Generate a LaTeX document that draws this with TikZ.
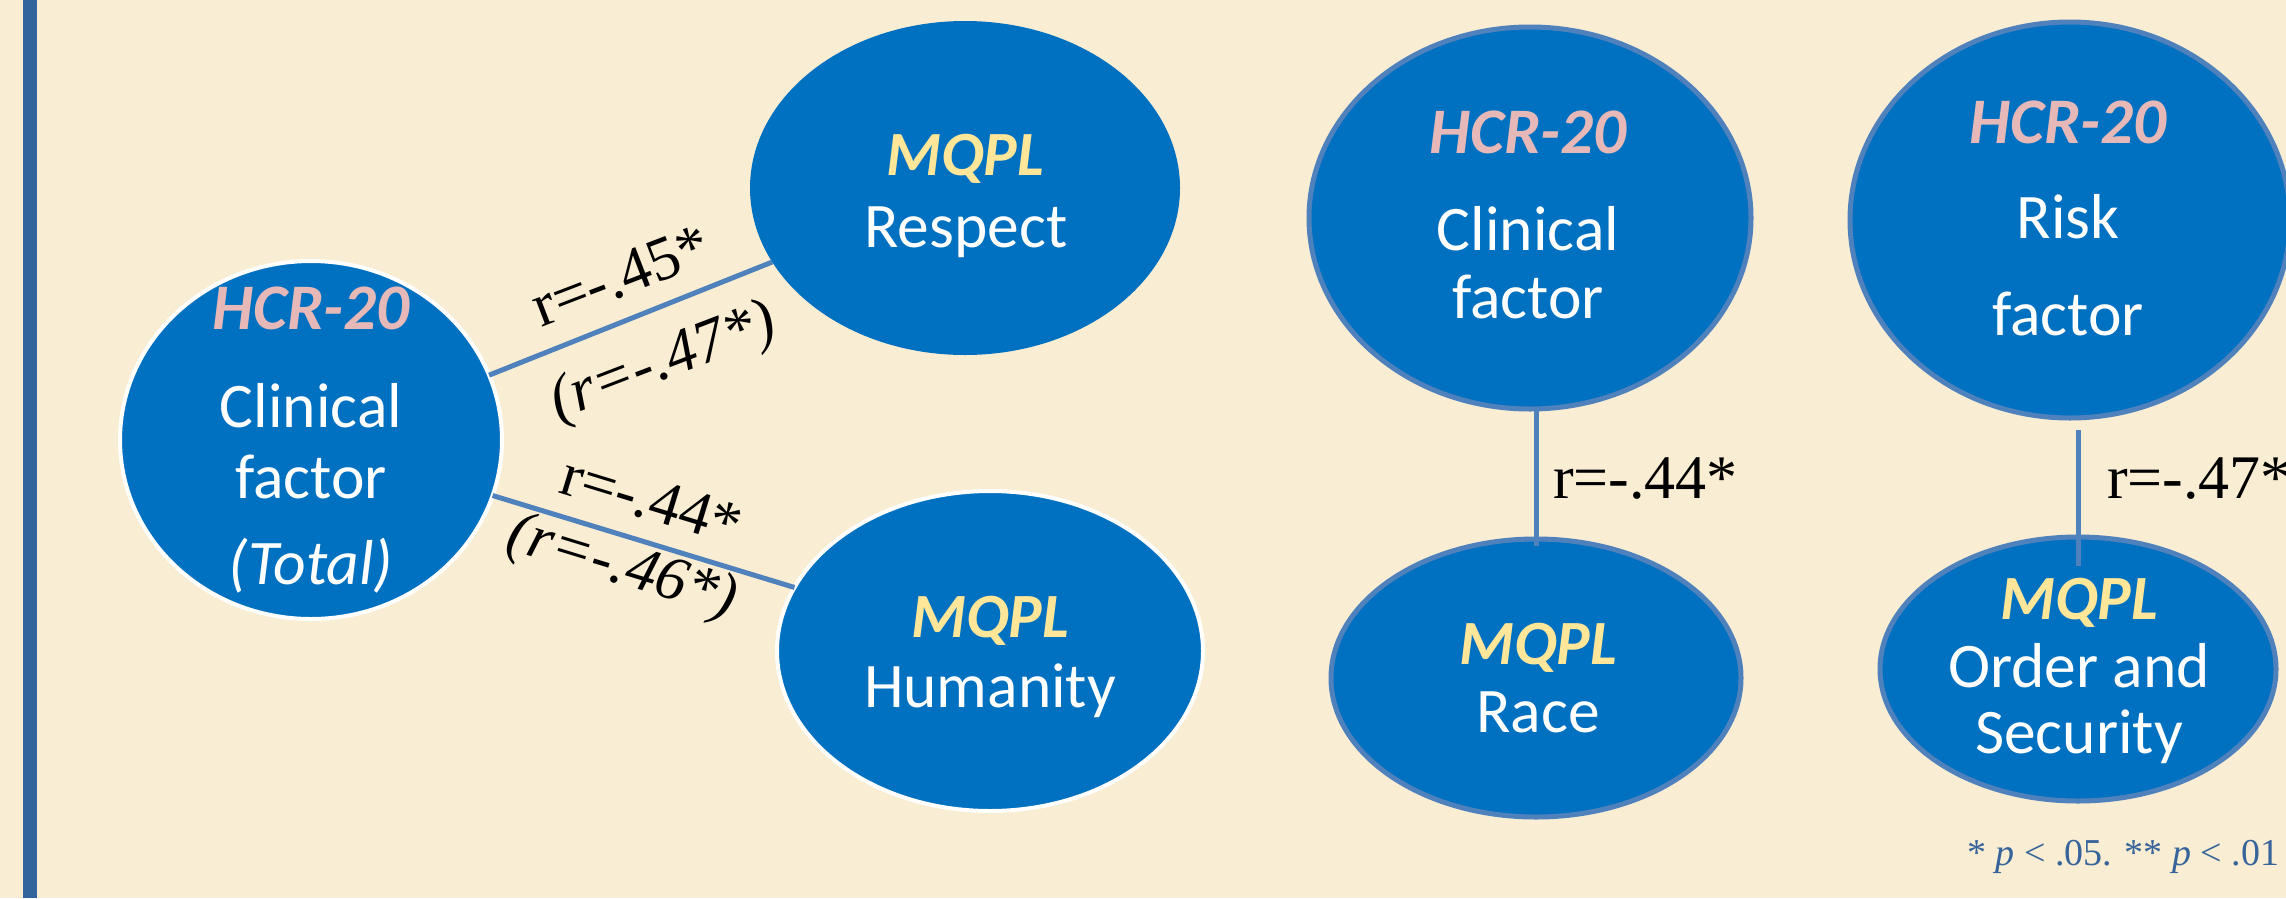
\documentclass[tikz,border=0pt]{standalone}
\usepackage{fontspec}
\usetikzlibrary{shapes.geometric}
\newfontfamily\calib{Carlito}
\newfontfamily\tnr{Liberation Serif}
\definecolor{bg}{HTML}{F9EDD3}
\definecolor{nodeblue}{HTML}{0070C0}
\definecolor{edgeblue}{HTML}{4F81BD}
\definecolor{pinkt}{HTML}{E6B9B8}
\definecolor{yellowt}{HTML}{FFE699}
\definecolor{barblue}{HTML}{31659B}
\definecolor{notecol}{HTML}{36649B}
\begin{document}
\begin{tikzpicture}[x=1pt,y=1pt,
  ell/.style={ellipse, fill=nodeblue, inner sep=0pt, outer sep=0pt},
  wborder/.style={draw=white, line width=4pt},
  bborder/.style={draw=edgeblue, line width=5pt},
  conn/.style={draw=edgeblue, line width=5pt},
  hcr/.style={font=\calib\bfseries\itshape\fontsize{65}{65}\selectfont, text=pinkt, anchor=base, inner sep=0pt},
  mqpl/.style={font=\calib\bfseries\itshape\fontsize{63}{63}\selectfont, text=yellowt, anchor=base, inner sep=0pt},
  body/.style={font=\calib\fontsize{63.5}{63.5}\selectfont, text=white, anchor=base, inner sep=0pt},
  rlab/.style={font=\tnr\fontsize{62}{62}\selectfont, text=black, inner sep=0pt},
]
\useasboundingbox (0,0) rectangle (2286,-898);
\clip (0,0) rectangle (2286,-898);
\fill[bg] (0,0) rectangle (2286,-898);
\fill[barblue] (23,0) rectangle (37,-898);

% ellipses
\node[ell, wborder, minimum width=382pt, minimum height=358pt] (A) at (311,-440) {};
\node[ell, minimum width=430pt, minimum height=334pt] (B) at (965,-188) {};
\node[ell, wborder, minimum width=426pt, minimum height=320pt] (C) at (990,-651) {};
\node[ell, bborder, minimum width=442pt, minimum height=382pt] (D) at (1530,-218) {};
\node[ell, bborder, minimum width=410pt, minimum height=278pt] (E) at (1536,-678) {};
\node[ell, bborder, minimum width=440pt, minimum height=396pt] (F) at (2070,-220) {};
\node[ell, bborder, minimum width=396pt, minimum height=264pt] (G) at (2078,-669) {};

% connectors
\draw[conn] (A.20.8) -- (B.201);
\draw[conn] (A.-17.2) -- (C.162.5);
\coordinate (e1) at ([yshift=-7pt]E.north);
\draw[conn] (D.south -| e1) -- (e1);
\coordinate (f1) at ([yshift=-12pt]F.south);
\coordinate (g1) at ([yshift=-29pt]G.north);
\draw[conn] (f1 -| g1) -- (g1);

% texts in ellipses
\node[hcr]  (A1) at (311,-329) {HCR-20};
\node[body] (A2) at (311,-427) {Clinical};
\node[body] (A3) at (311,-498) {factor};
\node[body, font=\calib\itshape\fontsize{63.5}{63.5}\selectfont] (A4) at (311,-584) {(Total)};

\node[mqpl] (B1) at (965,-175) {MQPL};
\node[body] (B2) at (966,-247) {Respect};

\node[mqpl] (C1) at (990,-637) {MQPL};
\node[body] (C2) at (990,-707) {Humanity};

\node[hcr]  (D1) at (1528,-153) {HCR-20};
\node[body] (D2) at (1528,-250) {Clinical};
\node[body] (D3) at (1528,-318) {factor};

\node[mqpl] (E1) at (1538,-664) {MQPL};
\node[body] (E2) at (1538,-732) {Race};

\node[hcr]  (F1) at (2068,-143) {HCR-20};
\node[body] (F2) at (2068,-238) {Risk};
\node[body] (F3) at (2068,-335) {factor};

\node[mqpl] (G1) at (2079,-619) {MQPL};
\node[body] (G2) at (2079,-687) {Order and};
\node[body] (G3) at (2079,-753) {Security};

% correlation labels
\node[rlab, rotate=21] (l1) at (621,-276) {r=-.45*};
\node[rlab, rotate=21, font=\tnr\itshape\fontsize{62}{62}\selectfont] (l2) at (664,-364) {(r=-.47*)};
\node[rlab, rotate=-17] (l3) at (652,-500) {r=-.44*};
\node[rlab, rotate=-17, font=\tnr\itshape\fontsize{62}{62}\selectfont] (l4) at (622,-569) {(r=-.46*)};
\node[rlab, anchor=base west] (l5) at (1553,-498) {r=-.44*};
\node[rlab, anchor=base west] (l6) at (2107,-498) {r=-.47*};

\node[font=\tnr\fontsize{38}{38}\selectfont, text=notecol, anchor=base west, inner sep=0pt] (note) at (1967,-865) {* \textit{p} < .05. ** \textit{p} < .01};
\end{tikzpicture}
\end{document}
